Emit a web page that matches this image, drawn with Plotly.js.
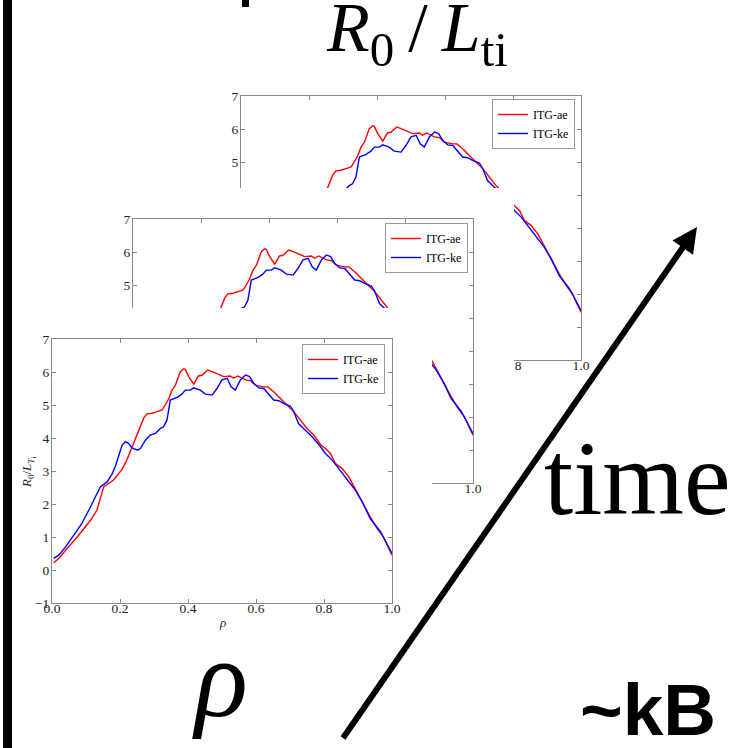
<!DOCTYPE html>
<html><head><meta charset="utf-8">
<script src="https://cdn.plot.ly/plotly-3.0.1.min.js"></script>
<style>html,body{margin:0;padding:0;background:#fff}#chart{width:739px;height:748px}</style>
</head><body><div id="chart"></div>
<script>
// ---- data ----
const rhoAE = [0.005,0.02,0.04,0.074,0.113,0.132,0.152,0.172,0.18,0.206,0.22,0.24,0.255,0.27,0.279,0.294,0.309,0.324,0.333,0.343,0.353,0.363,0.377,0.387,0.392,0.402,0.417,0.431,0.441,0.458,0.471,0.49,0.505,0.525,0.534,0.546,0.556,0.569,0.583,0.598,0.622,0.635,0.652,0.672,0.691,0.711,0.73,0.75,0.77,0.789,0.804,0.819,0.833,0.853,0.873,0.892,0.912,0.936,0.956,0.975,1.0];
const itgAE = [0.22,0.35,0.6,1.0,1.5,1.81,2.52,2.67,2.72,3.05,3.33,3.84,4.24,4.61,4.73,4.75,4.8,4.85,5.0,5.18,5.45,5.6,6.0,6.1,6.08,5.86,5.63,5.88,5.9,6.06,6.01,5.93,5.86,5.88,5.81,5.88,5.83,5.76,5.74,5.6,5.55,5.55,5.4,5.18,5.0,4.8,4.56,4.29,4.09,3.81,3.68,3.53,3.23,3.08,2.82,2.47,2.07,1.61,1.26,1.0,0.45];
const rhoKE = [0.005,0.02,0.04,0.064,0.088,0.113,0.132,0.142,0.162,0.176,0.186,0.196,0.206,0.216,0.225,0.235,0.252,0.26,0.275,0.289,0.304,0.319,0.328,0.338,0.348,0.368,0.382,0.392,0.407,0.417,0.436,0.451,0.471,0.485,0.5,0.515,0.527,0.539,0.554,0.569,0.581,0.593,0.608,0.623,0.642,0.652,0.667,0.681,0.701,0.711,0.725,0.745,0.765,0.789,0.804,0.824,0.843,0.868,0.892,0.912,0.936,0.966,1.0];
const itgKE = [0.35,0.45,0.7,1.05,1.41,1.91,2.32,2.52,2.67,2.9,3.13,3.48,3.78,3.89,3.84,3.7,3.63,3.68,3.94,4.09,4.14,4.29,4.34,4.54,5.15,5.23,5.33,5.45,5.45,5.52,5.45,5.33,5.3,5.5,5.76,5.81,5.55,5.45,5.76,5.91,5.86,5.66,5.52,5.5,5.27,5.15,5.13,5.05,4.97,4.8,4.44,4.24,4.04,3.75,3.53,3.33,3.08,2.77,2.42,2.07,1.56,1.16,0.5];
const seriesNames = ['ITG-ae','ITG-ke'];
const seriesColors = ['#ff0000','#0000ff'];
const xTickVals = [0,0.2,0.4,0.6,0.8,1.0];
const yTickVals = [-1,0,1,2,3,4,5,6,7];

// ---- geometry helpers ----
const W = 739, H = 748;
const px = x => x / W;
const py = y => 1 - y / H;
const SERIF = 'Liberation Serif, Times New Roman, serif';

// panels (back -> front): plot-area pixel boxes, white-sheet boxes
const panels = [
  {ax:'', box:[241,96,581,360], legend:'legend3', leg:[575,99]},
  {ax:'3', sheetAx:'2', sheet:[90,188,514,540], box:[133,219,473,483], legend:'legend2', leg:[468,223]},
  {ax:'5', sheetAx:'4', sheet:[12,308,432,660], box:[52,339,392,603], legend:'legend', leg:[385,344]}
];

const traces = [];
const layout = {
  width: W, height: H,
  margin: {l:0, r:0, t:0, b:0},
  paper_bgcolor: '#ffffff', plot_bgcolor: '#ffffff',
  showlegend: true,
  annotations: [], shapes: []
};

function dataAxes(p) {
  const [l,t,r,b] = p.box;
  const common = {
    ticks:'inside', ticklen:4, tickwidth:1, tickcolor:'#888',
    showline:true, linecolor:'#888', linewidth:1, mirror:'ticks',
    showgrid:false, zeroline:false, fixedrange:true,
    tickfont:{family:SERIF, size:13.5, color:'#222'}
  };
  layout['xaxis' + p.ax] = Object.assign({}, common, {
    domain:[px(l), px(r)], anchor:'y' + p.ax, range:[0,1],
    tickvals:xTickVals, tickformat:'.1f', ticklabelstandoff:-7
  });
  layout['yaxis' + p.ax] = Object.assign({}, common, {
    domain:[py(b), py(t)], anchor:'x' + p.ax, range:[-1,7],
    tickvals:yTickVals, ticklabelstandoff:-1
  });
}

panels.forEach((p, i) => {
  if (p.sheetAx) {
    const [l,t,r,b] = p.sheet;
    layout['xaxis' + p.sheetAx] = {domain:[px(l), px(r)], range:[0,1], visible:false, anchor:'y' + p.sheetAx, fixedrange:true};
    layout['yaxis' + p.sheetAx] = {domain:[py(b), py(t)], range:[0,1], visible:false, anchor:'x' + p.sheetAx, fixedrange:true};
    traces.push({x:[0,1,1,0,0], y:[0,0,1,1,0], xaxis:'x' + p.sheetAx, yaxis:'y' + p.sheetAx,
      mode:'lines', fill:'toself', fillcolor:'#ffffff', line:{width:0, color:'rgba(0,0,0,0)'},
      hoverinfo:'skip', showlegend:false});
  }
  dataAxes(p);
  const xs = [rhoAE, rhoKE], ys = [itgAE, itgKE];
  for (let k = 0; k < 2; k++) {
    traces.push({x:xs[k], y:ys[k], xaxis:'x' + p.ax, yaxis:'y' + p.ax, mode:'lines',
      name:seriesNames[k], line:{color:seriesColors[k], width:1.4}, legend:p.legend, hoverinfo:'skip'});
  }
  layout[p.legend] = {
    x:px(p.leg[0]), y:py(p.leg[1]), xanchor:'right', yanchor:'top',
    bgcolor:'#ffffff', bordercolor:'#999', borderwidth:1,
    font:{family:SERIF, size:12, color:'#000'}, itemwidth:30, tracegroupgap:0
  };
});

// front panel axis titles
layout.annotations.push(
  {text:'<i>R</i><sub>0</sub>/<i>L</i><sub><i>T</i><sub>i</sub></sub>', textangle:-90, x:px(28), y:py(473), xref:'paper', yref:'paper',
   showarrow:false, xanchor:'center', yanchor:'middle', font:{family:SERIF, size:13, color:'#222'}},
  {text:'<i>ρ</i>', x:px(222), y:py(622), xref:'paper', yref:'paper', showarrow:false,
   xanchor:'center', yanchor:'middle', font:{family:SERIF, size:13, color:'#222'}}
);

// big labels
layout.annotations.push(
  {text:'<i>R</i><sub>0</sub>\u2009/\u2009<i>L</i><sub>ti</sub>', x:px(417), y:py(33), xref:'paper', yref:'paper', showarrow:false,
   xanchor:'center', yanchor:'middle', font:{family:SERIF, size:70, color:'#000'}},
  {text:'time', x:px(637), y:py(478), xref:'paper', yref:'paper', showarrow:false,
   xanchor:'center', yanchor:'middle', font:{family:SERIF, size:105, color:'#000'}},
  {text:'<i>ρ</i>', x:px(220), y:py(679), xref:'paper', yref:'paper', showarrow:false,
   xanchor:'center', yanchor:'middle', font:{family:SERIF, size:110, color:'#000'}},
  {text:'<b>~kB</b>', x:px(648), y:py(709), xref:'paper', yref:'paper', showarrow:false,
   xanchor:'center', yanchor:'middle', font:{family:'Liberation Sans, Arial, sans-serif', size:73, color:'#000'}}
);

// decorations: left bar, small mark, arrow
const tail = [343, 738], tip = [697, 227];
const dx = tip[0] - tail[0], dy = tip[1] - tail[1];
const len = Math.hypot(dx, dy), ux = dx / len, uy = dy / len, nx = -uy, ny = ux;
const headL = 25, headW = 12.5;
const base = [tip[0] - headL * ux, tip[1] - headL * uy];
const w1 = [base[0] + headW * nx, base[1] + headW * ny];
const w2 = [base[0] - headW * nx, base[1] - headW * ny];
const P = (pt) => px(pt[0]) + ',' + py(pt[1]);
layout.shapes.push(
  {type:'rect', xref:'paper', yref:'paper', x0:px(3), x1:px(12), y0:0, y1:1, fillcolor:'#000', line:{width:0}, layer:'above'},
  {type:'rect', xref:'paper', yref:'paper', x0:px(242), x1:px(249), y0:py(7), y1:py(0), fillcolor:'#000', line:{width:0}, layer:'above'},
  {type:'line', xref:'paper', yref:'paper', x0:px(tail[0]), y0:py(tail[1]), x1:px(base[0] + 2*ux), y1:py(base[1] + 2*uy), line:{color:'#000', width:6}, layer:'above'},
  {type:'path', xref:'paper', yref:'paper', path:'M' + P(tip) + 'L' + P(w1) + 'L' + P(w2) + 'Z', fillcolor:'#000', line:{width:0}, layer:'above'}
);

Plotly.newPlot('chart', traces, layout, {staticPlot:true, displayModeBar:false});
</script>
</body></html>
